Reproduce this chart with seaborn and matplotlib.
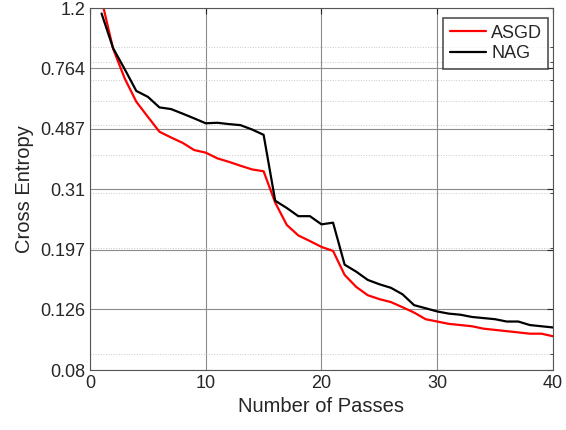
import pandas as pd
import seaborn as sns
import matplotlib
matplotlib.use("Agg")
import matplotlib.pyplot as plt
from matplotlib.ticker import NullFormatter

# passes 1..40
passes = list(range(1, 41))

# ASGD cross entropy
asgd = [1.28, 0.885, 0.709, 0.596, 0.532, 0.476, 0.456, 0.438, 0.415, 0.407,
        0.390, 0.380, 0.369, 0.359, 0.354, 0.280, 0.237, 0.219, 0.210, 0.201,
        0.195, 0.163, 0.149, 0.140, 0.136, 0.133, 0.128, 0.123, 0.117, 0.115,
        0.113, 0.112, 0.111, 0.109, 0.108, 0.107, 0.106, 0.105, 0.105, 0.103]

# NAG cross entropy
nag = [1.153, 0.889, 0.760, 0.646, 0.618, 0.571, 0.564, 0.545, 0.526, 0.507,
       0.509, 0.504, 0.500, 0.484, 0.465, 0.284, 0.269, 0.253, 0.253, 0.238,
       0.241, 0.176, 0.167, 0.157, 0.152, 0.148, 0.141, 0.130, 0.127, 0.124,
       0.122, 0.121, 0.119, 0.118, 0.117, 0.115, 0.115, 0.112, 0.111, 0.110]

ytick_vals = [0.08, 0.126, 0.197, 0.31, 0.487, 0.764, 1.2]
ytick_labels = ["0.08", "0.126", "0.197", "0.31", "0.487", "0.764", "1.2"]
xtick_vals = [0, 10, 20, 30, 40]

df = pd.DataFrame({
    "Passes": passes * 2,
    "CE": asgd + nag,
    "Method": ["ASGD"] * len(passes) + ["NAG"] * len(passes),
})

sns.set_style("white")
plt.rcParams["font.family"] = ["Liberation Sans", "DejaVu Sans"]

fig = plt.figure(figsize=(5.66, 4.3), dpi=100)
ax = fig.add_axes([0.159, 0.1395, 0.818, 0.8415])

sns.lineplot(data=df, x="Passes", y="CE", hue="Method",
             palette={"ASGD": "#ff0000", "NAG": "#000000"},
             linewidth=1.6, ax=ax)

ax.set_yscale("log")
ax.set_xlim(0, 40)
ax.set_ylim(0.08, 1.2)
ax.set_xticks(xtick_vals)
ax.set_yticks(ytick_vals)
ax.set_yticklabels(ytick_labels)
ax.yaxis.set_minor_formatter(NullFormatter())

ax.grid(True, which="major", color="#8c8c8c", linewidth=0.8, linestyle="-")
ax.grid(True, which="minor", axis="y", color="#c8c8c8", linewidth=0.7, linestyle=":")

ax.tick_params(axis="both", which="both", direction="in", top=True, right=True,
               labelsize=13, colors="#262626")
ax.tick_params(which="major", length=4)
ax.tick_params(which="minor", length=2)
for s in ax.spines.values():
    s.set_color("#555555")
    s.set_linewidth(0.8)

ax.set_xlabel("Number of Passes", fontsize=14.5, color="#262626")
ax.set_ylabel("Cross Entropy", fontsize=14.5, color="#262626")

leg = ax.legend(loc="upper right", bbox_to_anchor=(0.99, 0.972), fontsize=13,
                frameon=True, fancybox=False, handlelength=2.0, borderpad=0.35,
                labelspacing=0.2, handletextpad=0.3, borderaxespad=0)
leg.get_frame().set_edgecolor("#262626")
leg.get_frame().set_linewidth(1.2)
leg.set_title(None)

fig.savefig("out.png", dpi=100)
